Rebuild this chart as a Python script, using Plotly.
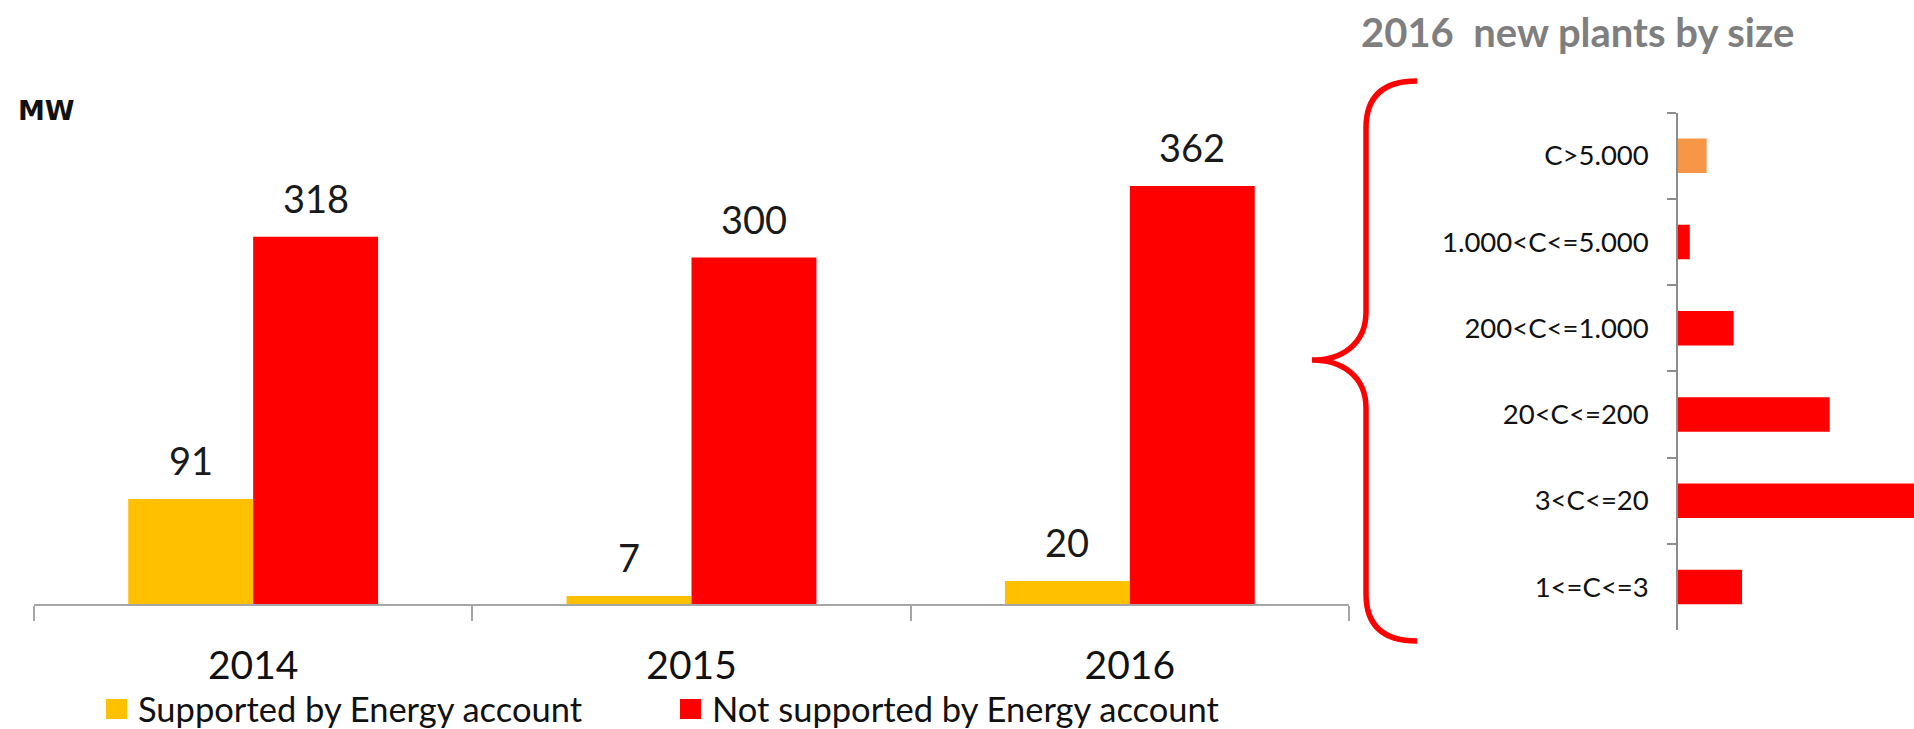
import plotly.graph_objects as go

# Yearly new capacity (MW)
years = ["2014", "2015", "2016"]
supported = [91, 7, 20]
not_supported = [318, 300, 362]
series_names = ["Supported by Energy account", "Not supported by Energy account"]
series_colors = ["#FFC000", "#FF0000"]

# 2016 new plants by size class (top to bottom)
size_classes = ["C>5.000", "1.000<C<=5.000", "200<C<=1.000", "20<C<=200", "3<C<=20", "1<=C<=3"]
size_values = [17, 7, 33, 90, 177, 38]
size_colors = ["#F79646", "#FF0000", "#FF0000", "#FF0000", "#FF0000", "#FF0000"]

W, H = 1914, 729
FONT = "Lato, 'Open Sans', sans-serif"
BARGAP = 0.43


def px(x, y):
    """Pixel position -> paper coordinates."""
    return x / W, (H - y) / H


fig = go.Figure()

for vals, name, color in zip([supported, not_supported], series_names, series_colors):
    fig.add_trace(go.Bar(
        x=years, y=vals, name=name, marker=dict(color=color, line=dict(width=0)),
        xaxis="x", yaxis="y", hoverinfo="skip", showlegend=False,
    ))

fig.add_trace(go.Bar(
    x=size_values, y=size_classes, orientation="h", width=0.4,
    marker=dict(color=size_colors, line=dict(width=0)),
    xaxis="x2", yaxis="y2", showlegend=False, hoverinfo="skip",
))

# value labels above each grouped bar
half = (1 - BARGAP) / 4
annotations = []
for i in range(len(years)):
    for vals, off in ((supported, -half), (not_supported, half)):
        annotations.append(dict(
            x=i + off, y=vals[i], xref="x", yref="y", text=str(vals[i]),
            showarrow=False, yanchor="bottom", yshift=14,
            font=dict(family=FONT, size=38, color="#1a1a1a"),
        ))

mx, my = px(16, 111)
annotations.append(dict(
    x=mx, y=my, xref="paper", yref="paper", text="<b>MW</b>", showarrow=False,
    xanchor="left", yanchor="middle",
    font=dict(family="'DejaVu Sans', sans-serif", size=27, color="#111111"),
))
tx, ty = px(1577, 32)
annotations.append(dict(
    x=tx, y=ty, xref="paper", yref="paper", text="<b>2016\u00a0 new plants by size</b>",
    showarrow=False, xanchor="center", yanchor="middle",
    font=dict(family=FONT, size=40, color="#7f7f7f"),
))

shapes = []

# legend row along the bottom: colour key + series name
LEGEND_Y = 708
KEY = 20
for name, color, key_x in zip(series_names, series_colors, (106, 680)):
    kx0, ky0 = px(key_x, LEGEND_Y + 1 + KEY / 2)
    kx1, ky1 = px(key_x + KEY + 1, LEGEND_Y + 1 - KEY / 2)
    shapes.append(dict(type="rect", xref="paper", yref="paper",
                       x0=kx0, y0=ky0, x1=kx1, y1=ky1,
                       fillcolor=color, line=dict(width=0)))
    lx, ly = px(key_x + KEY + 10, LEGEND_Y)
    annotations.append(dict(
        x=lx, y=ly, xref="paper", yref="paper", text=name, showarrow=False,
        xanchor="left", yanchor="middle",
        font=dict(family=FONT, size=34.5, color="#111111"),
    ))


def P(x, y):
    a, b = px(x, y)
    return f"{a:.5f},{b:.5f}"


# curly brace linking the 2016 bar to the breakdown
BX, TIPX, ENDX = 1366, 1312, 1417
TOP, TIP, BOT = 81, 360, 641
brace = (
    f"M {P(ENDX, TOP)} Q {P(BX, TOP)} {P(BX, TOP + 47)} L {P(BX, TIP - 48)} "
    f"C {P(BX, TIP - 16)} {P(TIPX + 30, TIP)} {P(TIPX, TIP)} "
    f"C {P(TIPX + 30, TIP)} {P(BX, TIP + 16)} {P(BX, TIP + 48)} "
    f"L {P(BX, BOT - 47)} Q {P(BX, BOT)} {P(ENDX, BOT)}"
)
shapes.append(dict(type="path", path=brace, xref="paper", yref="paper",
                   line=dict(color="#FF0000", width=5.5), layer="above"))

AXIS_Y = 604
PX_PER_MW = (AXIS_Y - 186) / 362
Y_MAX = 400

x0, _ = px(34, 0)
x1, _ = px(1349, 0)
_, ybot = px(0, AXIS_Y)
_, ytop = px(0, AXIS_Y - Y_MAX * PX_PER_MW)
rx0, _ = px(1678, 0)
_, r_bot = px(0, 630)
_, r_top = px(0, 112.7)

fig.update_layout(
    width=W, height=H, autosize=False,
    margin=dict(l=0, r=0, t=0, b=0),
    paper_bgcolor="white", plot_bgcolor="white",
    barmode="group", bargap=BARGAP, bargroupgap=0,
    font=dict(family=FONT, color="#111111"),
    showlegend=False,
    xaxis=dict(
        domain=[x0, x1], anchor="y", type="category", range=[-0.5, 2.5],
        tickson="boundaries", ticks="outside", ticklen=15, tickwidth=1.5,
        tickcolor="#a6a6a6", showline=True, linecolor="#a6a6a6", linewidth=1.5,
        showgrid=False, zeroline=False, ticklabelstandoff=26,
        tickfont=dict(family=FONT, size=39, color="#111111"),
    ),
    yaxis=dict(domain=[ybot, ytop], anchor="x", range=[0, Y_MAX], visible=False),
    xaxis2=dict(domain=[rx0, 1.0], anchor="y2", range=[0, 140], visible=False),
    yaxis2=dict(
        domain=[r_bot, r_top], anchor="x2", type="category",
        categoryorder="array", categoryarray=size_classes, range=[5.5, -0.5],
        tickson="boundaries", ticks="outside", ticklen=9, tickwidth=1.5,
        tickcolor="#8c8c8c", showline=True, linecolor="#8c8c8c", linewidth=1.5,
        showgrid=False, zeroline=False, ticklabelstandoff=22,
        tickfont=dict(family=FONT, size=27.5, color="#111111"),
    ),
    annotations=annotations,
    shapes=shapes,
)

# keep the page exactly the size of the figure
fig.write_html(
    "out.html",
    post_script="document.body.style.margin='0';document.body.style.overflow='hidden';",
)
